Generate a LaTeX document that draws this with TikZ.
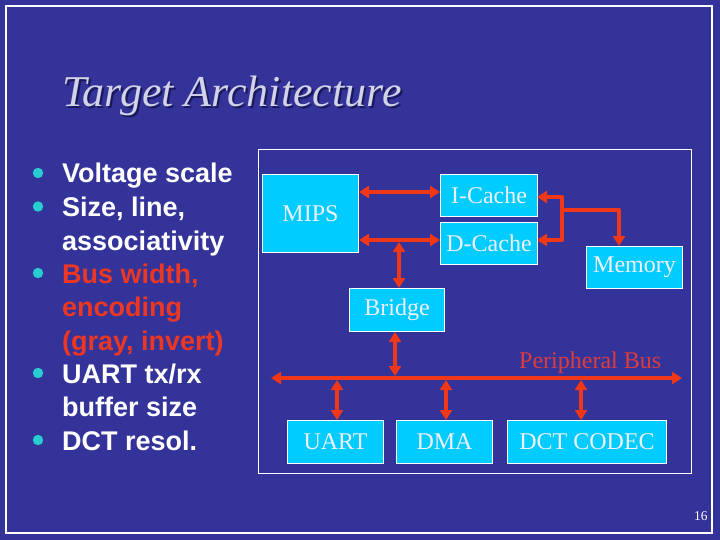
\documentclass[tikz,border=0pt]{standalone}
\usepackage{fontspec}
\setmainfont{Liberation Serif}
\newfontfamily\arialf{Liberation Sans}
\usetikzlibrary{arrows.meta,calc}
\definecolor{bg}{RGB}{51,51,153}
\definecolor{boxc}{RGB}{0,204,255}
\definecolor{arrc}{RGB}{240,56,24}
\definecolor{redtxt}{RGB}{235,55,35}
\definecolor{busl}{RGB}{222,60,60}
\definecolor{bul}{RGB}{40,205,210}
\definecolor{ttl}{RGB}{210,210,232}
\definecolor{shd}{RGB}{25,25,90}
\definecolor{boxtxt}{RGB}{240,240,250}
\begin{document}
\begin{tikzpicture}[x=1pt,y=-1pt,
  blk/.style={draw=white,line width=1pt,fill=boxc,text=boxtxt,font=\fontsize{24}{28}\selectfont,inner sep=0pt,anchor=north west},
  arr/.style={draw=arrc,line width=4.5pt,line join=round,{Triangle[length=10pt,width=12pt]}-{Triangle[length=10pt,width=12pt]}},
  arrone/.style={draw=arrc,line width=4.5pt,line join=round,-{Triangle[length=10pt,width=12pt]}},
  bline/.style={font=\arialf\bfseries\fontsize{27}{33}\selectfont,text=white,anchor=base west,inner sep=0pt},
  rline/.style={bline,text=redtxt},
  bdot/.style={fill=bul},
  ttlstyle/.style={font=\fontsize{44}{50}\selectfont\itshape,anchor=base west,inner sep=0pt}
]
\useasboundingbox (0,0) rectangle (720,540);
\fill[bg] (0,0) rectangle (720,540);
\draw[white,line width=2pt] (6,6) rectangle (712,533);
\draw[white,line width=1pt] (258,150) rectangle (691,473);

% title
\node[ttlstyle,text=shd] (titleshadow) at (64,109) {Target Architecture};
\node[ttlstyle,text=ttl] (title) at (62,107) {Target Architecture};

% bullet list
\node[bline] (l1) at (62,183) {Voltage scale};
\node[bline] (l2) at (62,216.5) {Size, line,};
\node[bline] (l3) at (62,250) {associativity};
\node[rline] (l4) at (62,283) {Bus width,};
\node[rline] (l5) at (62,316.5) {encoding};
\node[rline] (l6) at (62,350) {(gray, invert)};
\node[bline] (l7) at (62,383) {UART tx/rx};
\node[bline] (l8) at (62,416.5) {buffer size};
\node[bline] (l9) at (62,450) {DCT resol.};
\foreach \yy in {173,206.5,273,373,440} \fill[bdot] (38,\yy) circle (5.2);

% blocks
\node[blk,minimum width=96pt,minimum height=78pt] (mips) at (262,174) {MIPS};
\node[blk,minimum width=97pt,minimum height=42pt] (icache) at (440,174) {I-Cache};
\node[blk,minimum width=97pt,minimum height=42pt] (dcache) at (440,222) {D-Cache};
\node[blk,minimum width=96pt,minimum height=42pt] (mem) at (586,246) {Memory};
\node[blk,minimum width=95pt,minimum height=43pt] (bridge) at (349,288) {Bridge};
\node[blk,minimum width=96pt,minimum height=43pt] (uart) at (287,420) {UART};
\node[blk,minimum width=96pt,minimum height=43pt] (dma) at (396,420) {DMA};
\node[blk,minimum width=159pt,minimum height=43pt] (dct) at (507,420) {DCT CODEC};

% connectors
\coordinate (ic) at (440,192);
\coordinate (dc) at (440,240);
\coordinate (jb) at (399,242);
\draw[arr] (mips.east |- ic) -- (ic);
\draw[arr] (mips.east |- dc) -- (dc);
\draw[arr] (jb) -- (jb |- bridge.north);

\coordinate (ci) at (537,197);
\coordinate (cd) at (537,240);
\coordinate (cj) at (562,210);
\coordinate (mj) at (619,210);
\draw[arr] (ci) -- (562,197) -- (562,240) -- (cd);
\draw[arrone] (cj) -- (mj) -- (mj |- mem.north);

% peripheral bus
\coordinate (bl) at (271,378);
\coordinate (br) at (682,378);
\draw[arr] (bl) -- (br);
\node[font=\fontsize{24}{28}\selectfont,text=busl,anchor=base west,inner sep=0pt] (buslabel) at (519,368) {Peripheral Bus};
\coordinate (bb) at (395,376);
\draw[arr] (bb |- bridge.south) -- (bb);
\coordinate (bu) at (337,380);
\coordinate (bd) at (446,380);
\coordinate (bc) at (581,380);
\draw[arr] (bu) -- (bu |- uart.north);
\draw[arr] (bd) -- (bd |- dma.north);
\draw[arr] (bc) -- (bc |- dct.north);

% page number
\node[font=\fontsize{13.5}{16}\selectfont,text=white,anchor=base west,inner sep=0pt] (pnum) at (694,520) {16};
\end{tikzpicture}
\end{document}
